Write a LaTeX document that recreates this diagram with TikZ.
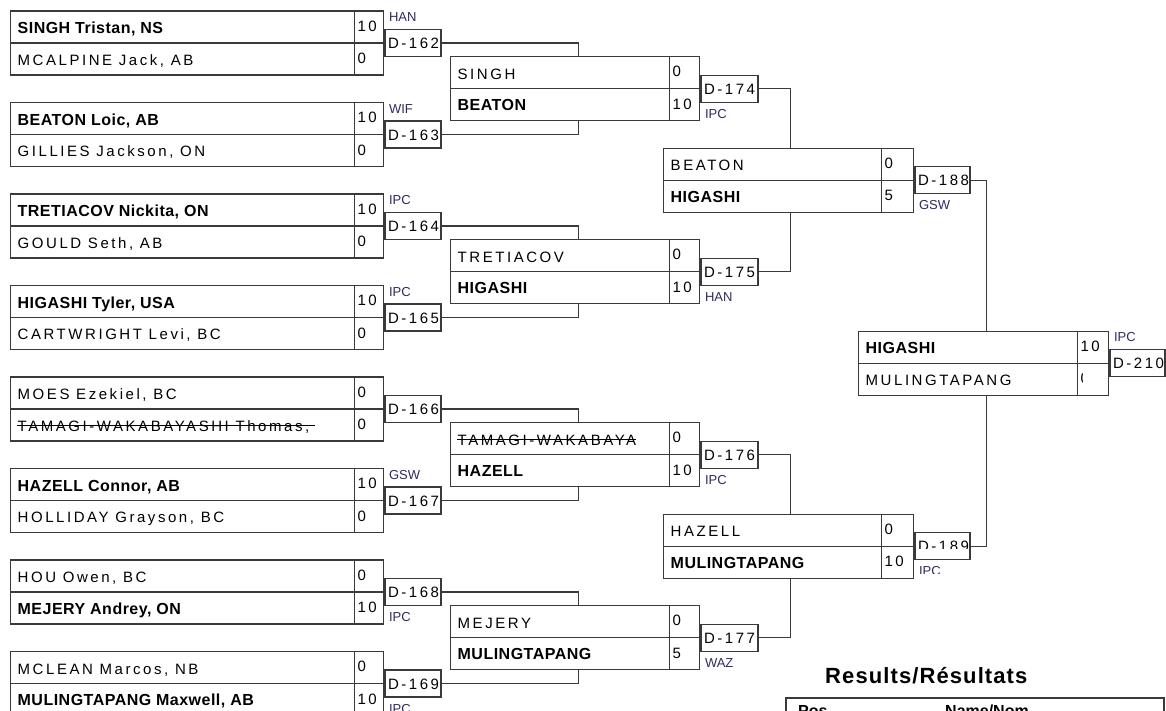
\documentclass[tikz,border=0pt]{standalone}
\usepackage{fontspec}
\setmainfont{Liberation Sans}
\newfontfamily\spc[LetterSpace=17]{Liberation Sans}
\newfontfamily\spcb[LetterSpace=3]{Liberation Sans}
\newfontfamily\spct[LetterSpace=5]{Liberation Sans}
\usetikzlibrary{calc}
\definecolor{ln}{HTML}{3A3A3A}
\definecolor{lab}{HTML}{2E2A60}
\tikzset{
 mbox/.style={draw=ln, line width=1.3pt, minimum height=64pt, inner sep=0pt, anchor=west},
 dbox/.style={draw=ln, line width=1.2pt, minimum height=27pt, inner sep=0pt, anchor=west},
 win/.style={anchor=base west, inner sep=0pt, font=\spcb\fontsize{16}{16}\selectfont\bfseries},
 los/.style={anchor=base west, inner sep=0pt, font=\spc\fontsize{15}{15}\selectfont},
 scr/.style={anchor=base west, inner sep=0pt, font=\spc\fontsize{15}{15}\selectfont},
 dtxt/.style={anchor=base west, inner sep=0pt, font=\spc\fontsize{15}{15}\selectfont},
 wtype/.style={anchor=base west, inner sep=0pt, text=lab, font=\fontsize{13}{13}\selectfont},
 conn/.style={draw=ln, line width=1.3pt},
 strike/.style={draw=black, line width=1.1pt},
 restitle/.style={anchor=base west, inner sep=0pt, font=\spct\fontsize{22}{22}\selectfont\bfseries},
 reshead/.style={anchor=base west, inner sep=0pt, font=\fontsize{16}{16}\selectfont\bfseries},
}
% match box: #1 id, #2 left, #3 mid, #4 top style, #5 top name, #6 top score, #7 bottom style, #8 bottom name, #9 bottom score
\newcommand\mtch[9]{%
 \node[mbox, minimum width=\bw pt] (m#1) at (#2,#3) {};
 \draw[conn] (m#1.west) -- (m#1.east);
 \draw[conn] ([xshift=-\scw pt]m#1.north east) -- ([xshift=-\scw pt]m#1.south east);
 \node[#4] (m#1a) at ($(m#1.west)+(7.5,-9.5)$) {#5};
 \node[scr] (m#1as) at ($(m#1.east)+(-\scw+3,-12)$) {#6};
 \node[#7] (m#1b) at ($(m#1.west)+(7.5,22)$) {#8};
 \node[scr] (m#1bs) at ($(m#1.east)+(-\scw+3,20.5)$) {#9};
}
% decision box: #1 id
\newcommand\dbx[1]{%
 \node[dbox, minimum width=\dw pt] (d#1) at (m#1.east) {};
 \node[dtxt] (d#1t) at ($(d#1.west)+(3.5,5.5)$) {D-#1};
}
% win type label: #1 id, #2 text, #3 vertical offset
\newcommand\wlab[3]{%
 \node[wtype] (w#1) at ($(d#1.west)+(4.5,#3)$) {#2};
}
\begin{document}
\begin{tikzpicture}[x=1pt,y=-1pt]
\useasboundingbox (0,0) rectangle (1166,710);
\clip (0,0) rectangle (1166,710);

% ---------- Round 1
\def\bw{373}\def\scw{30}\def\dw{56}
\mtch{162}{10}{43}{win}{SINGH Tristan, NS}{10}{los}{MCALPINE Jack, AB}{0}
\mtch{163}{10}{134.5}{win}{BEATON Loic, AB}{10}{los}{GILLIES Jackson, ON}{0}
\mtch{164}{10}{226}{win}{TRETIACOV Nickita, ON}{10}{los}{GOULD Seth, AB}{0}
\mtch{165}{10}{317.5}{win}{HIGASHI Tyler, USA}{10}{los}{CARTWRIGHT Levi, BC}{0}
\mtch{166}{10}{409}{los}{MOES Ezekiel, BC}{0}{los}{TAMAGI-WAKABAYASHI Thomas,}{0}
\mtch{167}{10}{500.5}{win}{HAZELL Connor, AB}{10}{los}{HOLLIDAY Grayson, BC}{0}
\mtch{168}{10}{592}{los}{HOU Owen, BC}{0}{win}{MEJERY Andrey, ON}{10}
\mtch{169}{10}{683.5}{los}{MCLEAN Marcos, NB}{0}{win}{MULINGTAPANG Maxwell, AB}{10}
\draw[strike] ($(m166b.base west)+(-1,-5.5)$) -- ($(m166b.base east)+(6,-5.5)$);
\dbx{162}\dbx{163}\dbx{164}\dbx{165}\dbx{166}\dbx{167}\dbx{168}\dbx{169}
\wlab{162}{HAN}{-21.5}
\wlab{163}{WIF}{-21.5}
\wlab{164}{IPC}{-21.5}
\wlab{165}{IPC}{-21.5}
\wlab{167}{GSW}{-21.5}
\wlab{168}{IPC}{29.5}
\wlab{169}{IPC}{29.5}

% ---------- Round 2
\def\bw{249}\def\scw{31}\def\dw{57}
\mtch{174}{450}{88.75}{los}{SINGH}{0}{win}{BEATON}{10}
\mtch{175}{450}{271.75}{los}{TRETIACOV}{0}{win}{HIGASHI}{10}
\mtch{176}{450}{454.75}{los}{TAMAGI-WAKABAYA}{0}{win}{HAZELL}{10}
\mtch{177}{450}{637.75}{los}{MEJERY}{0}{win}{MULINGTAPANG}{5}
\draw[strike] ($(m176a.base west)+(-1,-5.5)$) -- ($(m176a.base east)+(0,-5.5)$);
\dbx{174}\dbx{175}\dbx{176}\dbx{177}
\wlab{174}{IPC}{29.5}
\wlab{175}{HAN}{29.5}
\wlab{176}{IPC}{29.5}
\wlab{177}{WAZ}{29.5}

% ---------- Round 3
\def\bw{250}\def\scw{33}\def\dw{55}
\mtch{188}{663}{180.25}{los}{BEATON}{0}{win}{HIGASHI}{5}
\mtch{189}{663}{546.25}{los}{HAZELL}{0}{win}{MULINGTAPANG}{10}
\dbx{188}
\wlab{188}{GSW}{29.5}
\node[dbox, minimum width=\dw pt] (d189) at (m189.east) {};
\begin{scope}
 \clip (900,500) rectangle (1000,548);
 \node[dtxt] (d189t) at ($(d189.west)+(3.5,5.5)$) {D-189};
\end{scope}
\begin{scope}
 \clip (900,550) rectangle (1000,573);
 \node[wtype] (w189) at ($(d189.west)+(4.5,29.5)$) {IPC};
\end{scope}

% ---------- Final
\def\bw{250}\def\scw{32}\def\dw{55}
\mtch{210}{858}{363.25}{win}{HIGASHI}{10}{los}{}{}
\begin{scope}
 \clip (858,363) rectangle (1076,384);
 \node[los] (m210c) at ($(m210.west)+(7.5,22)$) {MULINGTAPANG};
\end{scope}
\begin{scope}
 \clip (1076,363) rectangle (1082,384);
 \node[scr] (m210cs) at ($(m210.east)+(-\scw+3,20.5)$) {0};
\end{scope}
\dbx{210}
\wlab{210}{IPC}{-21.5}

% ---------- Connectors
\draw[conn] (d162.east) -| ([xshift=3.5pt]m174.north);
\draw[conn] (d163.east) -| ([xshift=3.5pt]m174.south);
\draw[conn] (d164.east) -| ([xshift=3.5pt]m175.north);
\draw[conn] (d165.east) -| ([xshift=3.5pt]m175.south);
\draw[conn] (d166.east) -| ([xshift=3.5pt]m176.north);
\draw[conn] (d167.east) -| ([xshift=3.5pt]m176.south);
\draw[conn] (d168.east) -| ([xshift=3.5pt]m177.north);
\draw[conn] (d169.east) -| ([xshift=3.5pt]m177.south);
\draw[conn] (d174.east) -| ([xshift=2pt]m188.north);
\draw[conn] (d175.east) -| ([xshift=2pt]m188.south);
\draw[conn] (d176.east) -| ([xshift=2pt]m189.north);
\draw[conn] (d177.east) -| ([xshift=2pt]m189.south);
\draw[conn] (d188.east) -| ([xshift=3pt]m210.north);
\draw[conn] (d189.east) -| ([xshift=3pt]m210.south);

% ---------- Results
\node[restitle] (rt) at (825,683) {Results/Résultats};
\node[draw=ln, line width=2.4pt, minimum width=378pt, minimum height=40pt, inner sep=0pt, anchor=north west] (res) at (785,697) {};
\node[reshead] (rpos) at (798,716) {Pos};
\node[reshead] (rname) at (945,716) {Name/Nom};
\end{tikzpicture}
\end{document}
